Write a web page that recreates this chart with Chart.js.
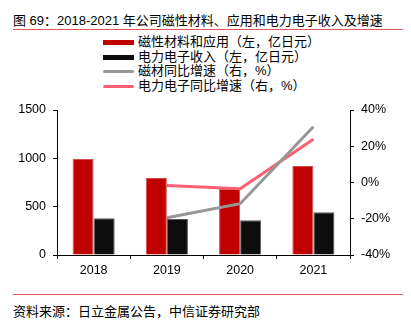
<!DOCTYPE html>
<html>
<head>
<meta charset="utf-8">
<script src="https://cdn.jsdelivr.net/npm/chart.js@4/dist/chart.umd.min.js"></script>
<style>
	body{margin:0;background:#fff;font-family:"Liberation Sans","Noto Sans CJK SC",sans-serif;color:#000;}
	#wrap{position:relative;width:411px;height:323px;overflow:hidden;}
	#title{position:absolute;left:13px;top:10px;font-size:13px;white-space:nowrap;}
	.rule{position:absolute;left:13px;width:390px;height:1px;background:#E0585E;}
	#legend{position:absolute;left:103px;top:35px;font-size:13px;}
	#legend div{height:14.6px;line-height:14.6px;white-space:nowrap;}
	#legend span{display:inline-block;width:31px;vertical-align:middle;margin-right:4px;}
	#source{position:absolute;left:13px;top:301px;font-size:13px;white-space:nowrap;}
	#box{position:absolute;left:0;top:95px;width:411px;height:190px;}
</style>
</head>
<body>
<div id="wrap">
	<div id="title">图 69：2018-2021 年公司磁性材料、应用和电力电子收入及增速</div>
	<div class="rule" style="top:29px"></div>
	<div id="legend"></div>
	<div id="box"><canvas id="chart"></canvas></div>
	<div class="rule" style="top:294px"></div>
	<div id="source">资料来源：日立金属公告，中信证券研究部</div>
</div>
<script>
	var years = ['2018','2019','2020','2021'];
	var magnetRevenue = [993, 797, 685, 921];      // 磁性材料和应用 (亿日元)
	var powerRevenue = [380, 372, 359, 442];       // 电力电子 (亿日元)
	var magnetGrowth = [null, -19.4, -11.7, 30.8]; // 磁材同比 (%)
	var powerGrowth = [null, -1.6, -3.4, 23.8];    // 电力电子同比 (%)
	var leftTicks = [0, 500, 1000, 1500];
	var rightTicks = [-40, -20, 0, 20, 40];

	var names = ['磁性材料和应用（左，亿日元）','电力电子收入（左，亿日元）','磁材同比增速（右，%）','电力电子同比增速（右，%）'];
	var colors = ['#C00000','#0D0D0D','#969696','#FF5F72'];

	// legend drawn as html so the rows line up like the original
	var legend = document.getElementById('legend');
	names.forEach(function(name, i){
		var row = document.createElement('div');
		var sw = document.createElement('span');
		sw.style.height = i < 2 ? '5px' : '3px';
		sw.style.background = colors[i];
		if(i >= 2) sw.style.borderRadius = '2px';
		row.appendChild(sw);
		row.appendChild(document.createTextNode(name));
		legend.appendChild(row);
	});

	var font = {family:'"Liberation Sans","Noto Sans CJK SC",sans-serif', size:12.5};

	new Chart(document.getElementById('chart'), {
		type:'bar',
		data:{
			labels:years,
			datasets:[
				{label:names[0], data:magnetRevenue, backgroundColor:colors[0], borderColor:'#D94A4A', borderWidth:1, yAxisID:'y', order:2, barPercentage:1, categoryPercentage:0.575},
				{label:names[1], data:powerRevenue, backgroundColor:colors[1], borderColor:'#5A5A5A', borderWidth:1, yAxisID:'y', order:2, barPercentage:1, categoryPercentage:0.575},
				{type:'line', label:names[2], data:magnetGrowth, borderColor:colors[2], borderWidth:3, pointRadius:0, yAxisID:'y1', order:1},
				{type:'line', label:names[3], data:powerGrowth, borderColor:colors[3], borderWidth:3, pointRadius:0, yAxisID:'y1', order:1}
			]
		},
		options:{
			responsive:true,
			maintainAspectRatio:false,
			animation:false,
			events:[],
			layout:{padding:{top:15, left:0, right:0, bottom:0}},
			plugins:{legend:{display:false}, tooltip:{enabled:false}},
			scales:{
				x:{
					offset:true,
					grid:{offset:true, drawOnChartArea:false, drawTicks:true, tickLength:4, color:'#000'},
					border:{display:true, color:'#000', width:1},
					ticks:{color:'#000', font:font, padding:4},
					afterFit:function(s){ s.height = 30; }
				},
				y:{
					position:'left',
					min:0, max:1500,
					afterBuildTicks:function(s){ s.ticks = leftTicks.map(function(v){ return {value:v}; }); },
					grid:{drawOnChartArea:false, drawTicks:true, tickLength:4, color:'#000'},
					border:{display:true, color:'#000', width:1},
					ticks:{color:'#000', font:font, padding:7, callback:function(v){ return String(v); }},
					afterFit:function(s){ s.width = 57; }
				},
				y1:{
					position:'right',
					min:-40, max:40,
					afterBuildTicks:function(s){ s.ticks = rightTicks.map(function(v){ return {value:v}; }); },
					grid:{drawOnChartArea:false, drawTicks:true, tickLength:4, color:'#000'},
					border:{display:true, color:'#000', width:1},
					ticks:{color:'#000', font:font, padding:7, callback:function(v){ return v + '%'; }},
					afterFit:function(s){ s.width = 61; }
				}
			}
		}
	});
</script>
</body>
</html>
